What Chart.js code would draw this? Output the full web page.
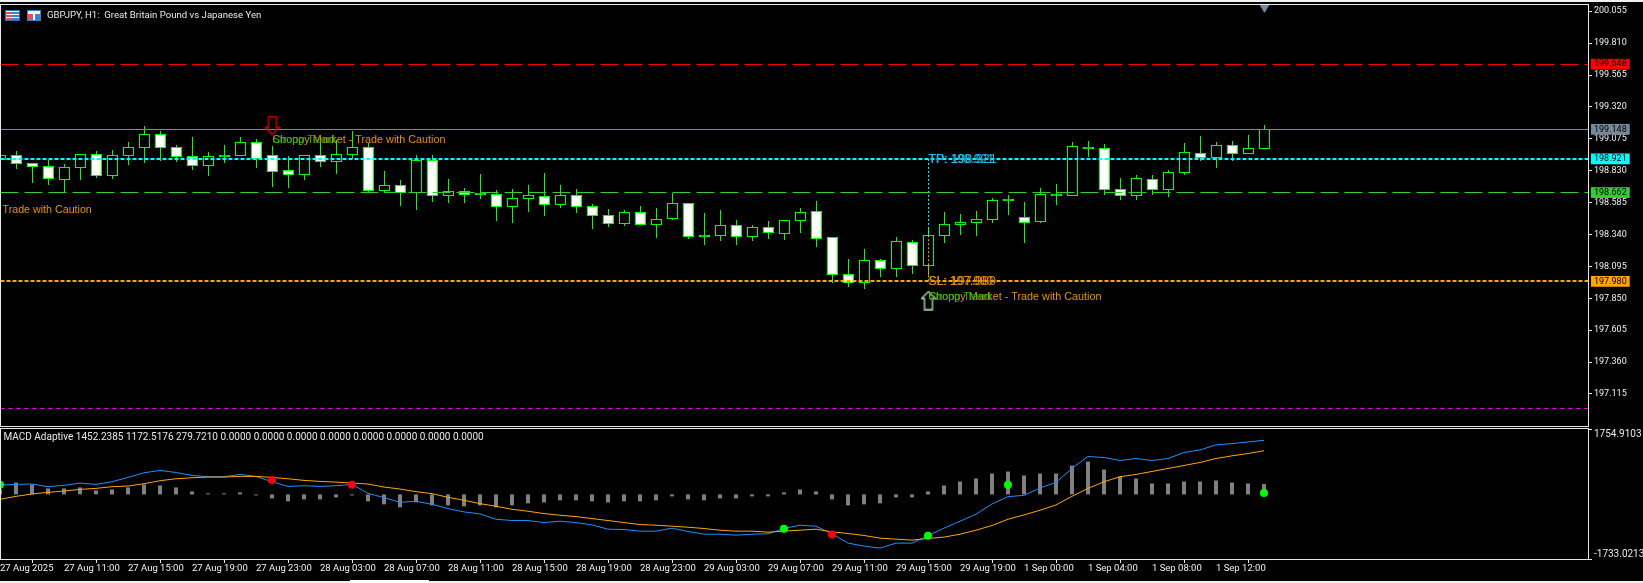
<!DOCTYPE html>
<html>
<head>
<meta charset="utf-8">
<title>GBPJPY H1</title>
<script src="https://cdn.jsdelivr.net/npm/chart.js@4/dist/chart.umd.min.js"></script>
<style>
  html, body { margin: 0; padding: 0; background: #000; overflow: hidden; }
  #page { position: relative; width: 1643px; height: 583px; background: #000; overflow: hidden; }
  canvas { position: absolute; left: 0; display: block; }
  #main-chart { top: 0; }
  #macd-chart { top: 427px; }
  .strip { position: absolute; left: 0; width: 1643px; height: 2px; background: #f0f0f0; }
  #tab { position: absolute; left: 350px; top: 580px; width: 79px; height: 3px; background: #fff; }
  .icon { position: absolute; top: 10px; height: 11px; border: 1px solid #2a6db0; box-sizing: border-box; }
  #icon-a { left: 5px; width: 15px;
    background: repeating-linear-gradient(0deg, rgba(255,255,255,0) 0 2px, #fff 2px 3px), linear-gradient(90deg, #e85050 50%, #3c82c8 50%); }
  #icon-b { left: 27px; width: 14px; border-color: #3c82c8;
    background: linear-gradient(#fff 0 3px, transparent 3px), linear-gradient(90deg, #e85050 45%, #fff 45%, #fff 60%, #3c82c8 60%); }
</style>
</head>
<body>
<div id="page">
  <div class="strip" style="top:0"></div>
  <div class="strip" style="top:581px"></div>
  <div id="tab"></div>
  <canvas id="main-chart" width="1643" height="427"></canvas>
  <canvas id="macd-chart" width="1643" height="156"></canvas>
  <div class="icon" id="icon-a"></div>
  <div class="icon" id="icon-b"></div>
</div>
<script>
// H1 candles
const opens = [198.920,198.947,198.885,198.862,198.762,198.855,198.954,198.793,198.947,199.008,199.108,199.008,198.939,198.870,198.948,198.947,199.047,198.947,198.832,198.801,
  198.947,198.901,198.954,199.008,198.678,198.716,198.663,198.908,198.641,198.672,198.652,198.649,198.557,198.618,198.633,198.572,198.641,198.557,198.487,198.426,
  198.511,198.418,198.464,198.580,198.334,198.334,198.411,198.326,198.395,198.349,198.449,198.518,198.319,198.034,197.973,198.142,198.080,198.280,198.104,198.334,
  198.418,198.434,198.457,198.602,198.472,198.441,198.643,198.641,199.001,199.002,198.687,198.641,198.764,198.687,198.818,198.964,198.933,199.025,198.964,199.002];
const highs = [198.958,198.981,198.889,198.916,198.881,198.954,198.981,198.989,199.047,199.173,199.135,199.031,199.089,198.970,199.027,199.089,199.070,199.020,198.943,198.954,
  199.097,199.066,199.135,199.043,198.828,198.762,198.954,198.954,198.766,198.695,198.805,198.682,198.689,198.720,198.812,198.720,198.689,198.574,198.536,198.528,
  198.559,198.544,198.656,198.580,198.505,198.528,198.451,198.413,198.444,198.449,198.541,198.597,198.319,198.152,198.226,198.150,198.321,198.295,198.390,198.511,
  198.495,198.518,198.618,198.641,198.587,198.695,198.726,199.048,199.056,199.035,198.772,198.795,198.795,198.833,199.043,199.094,199.048,199.056,199.102,199.179];
const lows = [198.912,198.845,198.738,198.720,198.655,198.759,198.776,198.766,198.874,198.891,198.905,198.899,198.838,198.789,198.891,198.947,198.853,198.707,198.697,198.759,
  198.861,198.807,198.920,198.659,198.655,198.561,198.530,198.592,198.582,198.582,198.613,198.444,198.428,198.513,198.482,198.544,198.505,198.382,198.398,198.405,
  198.418,198.313,198.451,198.305,198.259,198.290,198.259,198.290,198.305,198.298,198.352,198.244,197.968,197.939,197.924,198.016,198.016,198.039,198.029,198.277,
  198.339,198.331,198.431,198.492,198.277,198.431,198.569,198.641,198.938,198.646,198.607,198.607,198.646,198.630,198.799,198.902,198.853,198.907,198.964,199.002];
const closes = [198.947,198.885,198.866,198.770,198.855,198.954,198.793,198.947,199.008,199.108,199.008,198.939,198.870,198.939,198.942,199.047,198.924,198.824,198.801,198.947,
  198.901,198.954,199.008,198.678,198.716,198.663,198.908,198.641,198.672,198.649,198.646,198.557,198.618,198.641,198.572,198.641,198.557,198.487,198.426,198.511,
  198.418,198.457,198.580,198.326,198.328,198.411,198.326,198.395,198.357,198.449,198.511,198.311,198.034,197.973,198.142,198.080,198.288,198.104,198.334,198.418,
  198.434,198.457,198.603,198.608,198.434,198.649,198.649,199.017,199.007,198.687,198.641,198.772,198.687,198.818,198.971,198.933,199.025,198.964,199.002,199.148];

// MACD sub window
const macdHist = [133,320,267,160,160,187,107,133,187,267,240,187,80,27,27,53,-27,-107,-187,-133,
  -133,-80,-27,-187,-267,-347,-213,-294,-294,-320,-294,-347,-294,-240,-213,-160,-160,-187,-213,-187,
  -187,-160,-53,-133,-160,-107,-107,-53,-53,53,133,80,-133,-294,-267,-240,-80,-80,80,240,
  347,427,560,614,507,560,560,774,881,667,480,427,294,294,347,347,374,320,294,280];
const macdLine = [251,269,278,207,242,304,269,340,456,581,643,589,509,474,474,536,483,340,215,233,215,233,269,29,-87,-212,-185,-265,
  -381,-470,-523,-666,-701,-701,-755,-719,-755,-817,-933,-942,-986,-986,-906,-995,-1067,-1067,-1093,-1067,-1058,-915,-826,-853,-1058,-1307,-1387,-1440,
  -1307,-1307,-1111,-906,-719,-532,-256,-60,-25,171,322,696,1017,990,910,963,910,963,1124,1195,1328,1364,1408,1452];
const signalLine = [-132,-52,11,55,91,135,162,207,224,287,367,420,447,465,465,483,483,456,420,376,349,331,304,278,198,144,73,20,
  -78,-158,-247,-318,-399,-452,-514,-559,-595,-648,-701,-755,-808,-826,-853,-880,-915,-960,-986,-986,-1013,-986,-960,-933,-1004,-1049,-1102,-1173,
  -1200,-1227,-1182,-1146,-1067,-960,-835,-666,-550,-425,-283,-52,162,340,474,536,616,696,776,857,963,1035,1097,1173];
const greenDotBars = [0, 49, 58, 63, 79];
const greenDotValues = [260, -924, -1111, 260, 37];
const redDotBars = [17, 22, 52];
const redDotValues = [385, 260, -1075];

// axes
const priceTicks = [200.055,199.810,199.565,199.320,199.075,198.830,198.585,198.340,198.095,197.850,197.605,197.360,197.115];
const macdTicks = [1754.9103, -1733.0213];
const timeLabels = ['27 Aug 2025','27 Aug 11:00','27 Aug 15:00','27 Aug 19:00','27 Aug 23:00','28 Aug 03:00','28 Aug 07:00','28 Aug 11:00','28 Aug 15:00','28 Aug 19:00',
  '28 Aug 23:00','29 Aug 03:00','29 Aug 07:00','29 Aug 11:00','29 Aug 15:00','29 Aug 19:00','1 Sep 00:00','1 Sep 04:00','1 Sep 08:00','1 Sep 12:00'];

// price levels
const redLevel = 199.648, bidLevel = 199.148, tpLevel = 198.921, greenLevel = 198.662, slLevel = 197.980, lowLevel = 197.005;
const entryLevel = 198.334;
const tagColors = { 199.648: '#ff0000', 199.148: '#778899', 198.921: '#00ffff', 198.662: '#32cd32', 197.98: '#ffa500' };
const tagLevels = [redLevel, bidLevel, tpLevel, greenLevel, slLevel];

const signalBar = 58, sellBar = 17, lastBar = 79;
const CHOPPY = 'Choppy Market - Trade with Caution';
const labelTexts = [CHOPPY, 'Strong Trend', CHOPPY, 'Strong Trend', 'Trade with Caution', 'TP: 198.921', 'TP: 198.921', 'SL: 197.980', 'SL: 197.980'];
const labelBars = [sellBar, sellBar, signalBar, signalBar, 0, signalBar, signalBar, signalBar, signalBar];
const labelPrices = [199.066, 199.066, 197.862, 197.862, 198.528, 198.918, 198.918, 197.975, 197.975];
const labelColors = ['#e89200', '#10c000', '#e89200', '#10c000', '#e89200', '#20b8e8', '#20b8e8', '#e08a00', '#e08a00'];
const labelSizes = [10.8, 10.8, 10.8, 10.8, 10.7, 12.5, 12, 12.5, 12];

const AXIS_FONT = { family: 'Roboto', size: 9.5 };
const GREEN = '#00ff00';
const barIndex = opens.map((_, i) => i);

function hLine(value, color, width, dash) {
  return {
    type: 'line', order: 3, snapLine: true,
    data: [{ x: 0, y: value }, { x: 100, y: value }],
    borderColor: color, borderWidth: width, borderDash: dash || [], pointRadius: 0, tension: 0
  };
}

function vLine(bar, from, to, color) {
  return {
    type: 'line', order: 3,
    data: [{ x: bar, y: from }, { x: bar, y: to }],
    borderColor: color, borderWidth: 1, borderDash: [2, 2], pointRadius: 0
  };
}

// outlined arrow used as a point style
function arrowImage(color, down) {
  const c = document.createElement('canvas');
  c.width = 16; c.height = 20;
  const g = c.getContext('2d');
  if (down) { g.translate(0, 20); g.scale(1, -1); }
  g.strokeStyle = color;
  g.lineWidth = 1.4;
  g.beginPath();
  g.moveTo(8, 1); g.lineTo(15, 8); g.lineTo(12, 8); g.lineTo(12, 19);
  g.lineTo(4, 19); g.lineTo(4, 8); g.lineTo(1, 8); g.closePath();
  g.stroke();
  return c;
}

// keep candle edges on whole pixels, the terminal draws them without smoothing
const snapCandles = {
  id: 'snapCandles',
  afterDatasetsUpdate(chart) {
    chart.data.datasets.forEach((ds, i) => {
      if (!ds.candlePart) return;
      chart.getDatasetMeta(i).data.forEach(el => {
        if (ds.candlePart === 'wick') {
          el.y = Math.round(el.y);
          el.base = Math.round(el.base);
        } else {
          el.y = Math.floor(el.y) + 0.5;
          el.base = Math.floor(el.base) + 0.5;
          if (el.base - el.y < 1) el.base = el.y + 1;
        }
        el.height = el.y - el.base;
      });
    });
  },
  // horizontal level lines: move by the fraction so they stay 1px sharp
  beforeDatasetDraw(chart, args) {
    const ds = chart.data.datasets[args.index];
    if (!ds.snapLine) return;
    const y = args.meta.data[0].y;
    const target = ds.borderWidth === 2 ? Math.round(y) : Math.floor(y) + 0.5;
    chart.ctx.save();
    chart.ctx.translate(0, target - y);
  },
  afterDatasetDraw(chart, args) {
    if (chart.data.datasets[args.index].snapLine) chart.ctx.restore();
  }
};

// white panel outline
const framePlugin = {
  id: 'frame',
  afterDraw(chart) {
    const a = chart.chartArea, ctx = chart.ctx;
    ctx.save();
    ctx.strokeStyle = '#e8e8e8';
    ctx.lineWidth = 1;
    ctx.strokeRect(0.5, a.top - 0.5, a.right, a.bottom - a.top + 1);
    ctx.restore();
  }
};

const mainLabels = {
  id: 'mainLabels',
  afterDatasetsDraw(chart) {
    const ctx = chart.ctx, x = chart.scales.x, y = chart.scales.y;
    ctx.save();
    ctx.textBaseline = 'middle';
    labelTexts.forEach((text, i) => {
      ctx.font = labelSizes[i] + 'px "Liberation Sans"';
      ctx.fillStyle = labelColors[i];
      ctx.fillText(text, x.getPixelForValue(labelBars[i]) + (labelBars[i] === 0 ? 2 : 0), y.getPixelForValue(labelPrices[i]));
    });
    ctx.font = '9.6px Roboto';
    ctx.fillStyle = '#e8e8e8';
    ctx.fillText('GBPJPY, H1:  Great Britain Pound vs Japanese Yen', 47, 16);
    ctx.restore();
  }
};

const macdLabels = {
  id: 'macdLabels',
  afterDraw(chart) {
    const ctx = chart.ctx, y = chart.scales.y;
    ctx.save();
    ctx.textBaseline = 'middle';
    ctx.font = '10px Roboto';
    ctx.fillStyle = '#e8e8e8';
    ctx.fillText('MACD Adaptive 1452.2385 1172.5176 279.7210 0.0000 0.0000 0.0000 0.0000 0.0000 0.0000 0.0000 0.0000', 3.5, 10.5);
    ctx.fillText('1754.9103', 1594, y.getPixelForValue(macdTicks[0]) + 5);
    ctx.fillText('-1733.0213', 1594, y.getPixelForValue(macdTicks[1]) - 5);
    ctx.restore();
  }
};

new Chart(document.getElementById('main-chart'), {
  type: 'bar',
  plugins: [snapCandles, mainLabels, framePlugin],
  data: {
    datasets: [
      {
        // wicks
        candlePart: 'wick',
        order: 5, grouped: false, barThickness: 1, inflateAmount: 0, borderWidth: 0,
        backgroundColor: GREEN,
        data: barIndex.map(i => ({ x: i, y: [lows[i], highs[i]] }))
      },
      {
        // bodies: white when the bar closed lower, black when it closed higher, solid green for a doji
        candlePart: 'body',
        order: 4, grouped: false, barThickness: 10, inflateAmount: 0.5, borderWidth: 1, borderSkipped: false,
        borderColor: GREEN,
        backgroundColor: barIndex.map(i => Math.abs(closes[i] - opens[i]) < 0.0065 ? GREEN : (closes[i] < opens[i] ? '#ffffff' : '#000000')),
        data: barIndex.map(i => ({ x: i, y: [Math.min(opens[i], closes[i]), Math.max(opens[i], closes[i])] }))
      },
      hLine(redLevel, '#ff0000', 1, [18, 6]),
      hLine(bidLevel, '#778899', 1),
      hLine(tpLevel, '#00ffff', 2, [4, 2]),
      hLine(greenLevel, '#32cd32', 1, [18, 6]),
      hLine(slLevel, '#ffa500', 2, [4, 2]),
      hLine(lowLevel, '#ff00ff', 1, [4, 4]),
      vLine(signalBar, tpLevel, entryLevel, '#00ffff'),
      vLine(signalBar, entryLevel, slLevel, '#ffa500'),
      {
        type: 'line', order: 2, showLine: false,
        data: [{ x: sellBar, y: 199.177 }],
        pointStyle: arrowImage('#dd0000', true)
      },
      {
        type: 'line', order: 2, showLine: false,
        data: [{ x: signalBar, y: 197.833 }],
        pointStyle: arrowImage('#a8dca8', false)
      },
      {
        // chart shift marker
        type: 'line', order: 2, showLine: false,
        data: [{ x: lastBar, y: 200.085 }],
        pointStyle: 'triangle', rotation: 180, pointRadius: 5,
        pointBackgroundColor: '#778899', pointBorderColor: '#778899'
      }
    ]
  },
  options: {
    responsive: false,
    animation: false,
    layout: { autoPadding: false, padding: { left: 1, top: 5, bottom: 1, right: 0 } },
    plugins: { legend: { display: false }, tooltip: { enabled: false } },
    scales: {
      x: { type: 'linear', display: false, min: 0.03125, max: 99.21875, offset: false },
      y: {
        position: 'right',
        min: 196.869, max: 200.103,
        border: { display: false },
        grid: {
          drawOnChartArea: false, tickLength: 4,
          tickColor: ctx => tagLevels.includes(ctx.tick.value) ? 'transparent' : '#e8e8e8'
        },
        afterFit(scale) { scale.width = 55; scale.paddingTop = 0; scale.paddingBottom = 0; },
        afterBuildTicks(scale) {
          scale.ticks = priceTicks.concat(tagLevels).map(v => ({ value: v }));
        },
        ticks: {
          autoSkip: false, padding: 2,
          font: { family: 'Roboto', size: 9 },
          callback: v => v.toFixed(3),
          color: ctx => tagLevels.includes(ctx.tick.value) ? '#000000' : '#f0f0f0',
          showLabelBackdrop: ctx => tagLevels.includes(ctx.tick.value),
          backdropColor: ctx => tagColors[ctx.tick.value] || 'transparent',
          backdropPadding: { x: 3, y: 0 }
        }
      }
    }
  }
});

new Chart(document.getElementById('macd-chart'), {
  type: 'bar',
  plugins: [macdLabels, framePlugin],
  data: {
    datasets: [
      {
        order: 5, barThickness: 4, inflateAmount: 0, borderWidth: 0,
        backgroundColor: '#808080',
        data: barIndex.map(i => ({ x: i, y: macdHist[i] }))
      },
      {
        type: 'line', order: 4, borderColor: '#1e90ff', borderWidth: 1, pointRadius: 0, tension: 0,
        data: barIndex.map(i => ({ x: i, y: macdLine[i] }))
      },
      {
        type: 'line', order: 3, borderColor: '#ffa500', borderWidth: 1, pointRadius: 0, tension: 0,
        data: barIndex.map(i => ({ x: i, y: signalLine[i] }))
      },
      {
        type: 'line', order: 2, showLine: false, pointRadius: 4, pointBorderWidth: 0,
        pointBackgroundColor: '#00ff00',
        data: greenDotBars.map((b, i) => ({ x: b, y: greenDotValues[i] }))
      },
      {
        type: 'line', order: 2, showLine: false, pointRadius: 4, pointBorderWidth: 0,
        pointBackgroundColor: '#ff0000',
        data: redDotBars.map((b, i) => ({ x: b, y: redDotValues[i] }))
      }
    ]
  },
  options: {
    responsive: false,
    animation: false,
    layout: { autoPadding: false, padding: { left: 0, top: 2, bottom: 0, right: 0 } },
    plugins: { legend: { display: false }, tooltip: { enabled: false } },
    scales: {
      x: {
        type: 'linear', min: 0, max: 99.25, offset: false,
        border: { display: false },
        grid: { drawOnChartArea: false, tickLength: 4, tickColor: '#e8e8e8' },
        afterFit(scale) { scale.height = 24; scale.paddingLeft = 0; scale.paddingRight = 0; },
        afterBuildTicks(scale) {
          scale.ticks = timeLabels.map((_, i) => ({ value: i * 4 }));
        },
        ticks: {
          autoSkip: false, maxRotation: 0, align: 'start', padding: 0,
          font: AXIS_FONT, color: '#f0f0f0',
          callback: v => timeLabels[v / 4]
        }
      },
      y: {
        position: 'right',
        min: macdTicks[1], max: macdTicks[0],
        border: { display: false },
        grid: { drawOnChartArea: false, tickLength: 4, tickColor: '#e8e8e8' },
        afterFit(scale) { scale.width = 55; scale.paddingTop = 0; scale.paddingBottom = 0; },
        afterBuildTicks(scale) {
          scale.ticks = macdTicks.map(v => ({ value: v }));
        },
        ticks: { callback: () => '' }
      }
    }
  }
});
</script>
</body>
</html>
